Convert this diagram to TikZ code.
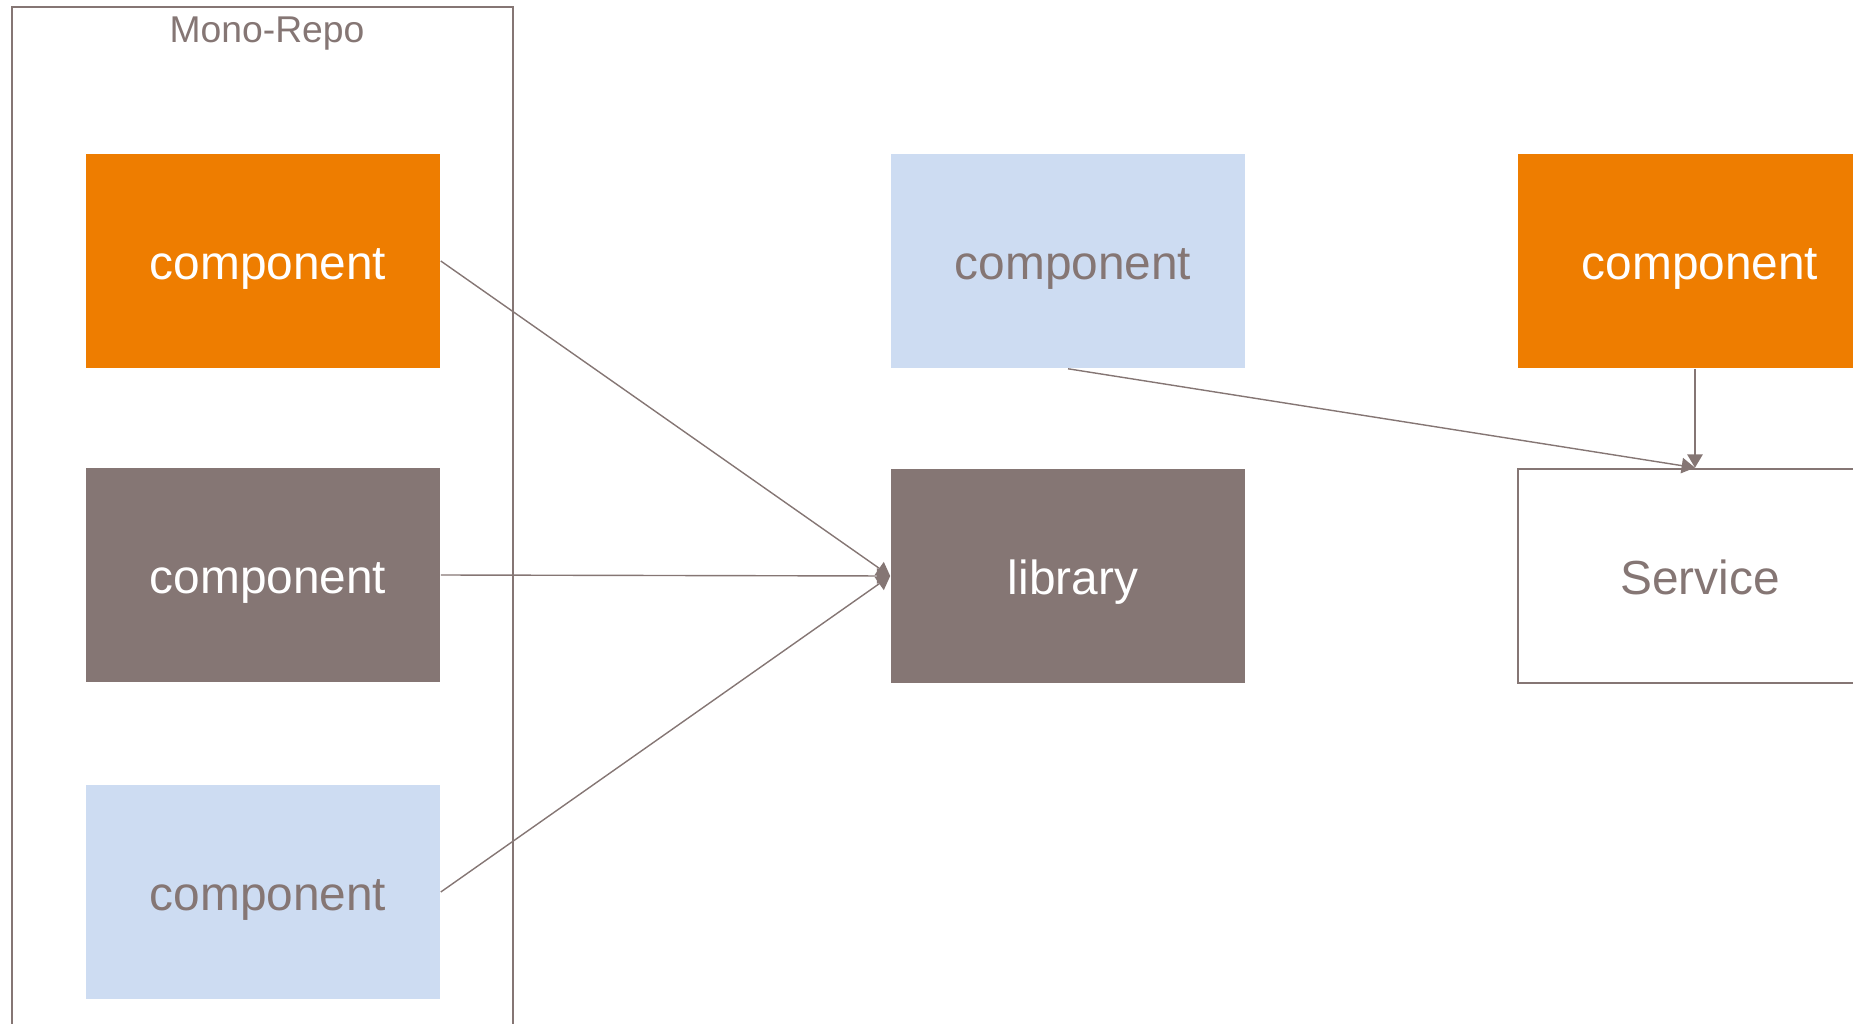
\documentclass[tikz,border=0pt]{standalone}
\usepackage{fontspec}
\setmainfont{Liberation Sans}
\usetikzlibrary{arrows.meta}

\definecolor{cinza}{RGB}{133,118,116}
\definecolor{laranja}{RGB}{238,125,0}
\definecolor{azulclaro}{RGB}{205,220,242}

\begin{document}
\begin{tikzpicture}[x=0.01cm, y=-0.01cm,
    bloco/.style={minimum width=3.54cm, minimum height=2.14cm, inner sep=0pt,
      text height=1.1em, text depth=0.04em,
      execute at begin node=\hspace*{0.1cm},
      font=\fontsize{13.6}{16}\selectfont},
    seta/.style={draw=cinza, line width=0.4pt, -{Triangle[length=3.8pt,width=4.4pt]}}]
    \useasboundingbox (0,0) rectangle (1853,1024);
    \clip (0,0) rectangle (1853,1024);

    % Moldura do Mono-Repo (aberta embaixo)
    \draw[cinza, line width=0.7pt] (12,1040) -- (12,7) -- (513,7) -- (513,1040);
    \node[cinza, font=\fontsize{10.6}{12}\selectfont] (titulo) at (267,34) {Mono-Repo};

    % Componentes dentro do Mono-Repo
    \node[bloco, fill=laranja, text=white] (compA) at (263,261) {component};
    \node[bloco, fill=cinza, text=white] (compB) at (263,575) {component};
    \node[bloco, fill=azulclaro, text=cinza] (compC) at (263,892) {component};

    % Coluna do meio
    \node[bloco, fill=azulclaro, text=cinza] (compD) at (1068,261) {component};
    \node[bloco, fill=cinza, text=white] (lib) at (1068,576) {library};

    % Coluna da direita
    \node[bloco, fill=laranja, text=white] (compE) at (1695,261) {component};
    \node[bloco, draw=cinza, line width=0.7pt, fill=white, text=cinza] (servico) at (1695,576) {Service};

    % Setas
    \draw[seta] (compA.east) -- (lib.west);
    \draw[seta] (compB.east) -- (lib.west);
    \draw[seta] (compC.east) -- (lib.west);
    \draw[seta] (compD.south) -- (servico.north);
    \draw[seta] (compE.south) -- (servico.north);
\end{tikzpicture}
\end{document}
